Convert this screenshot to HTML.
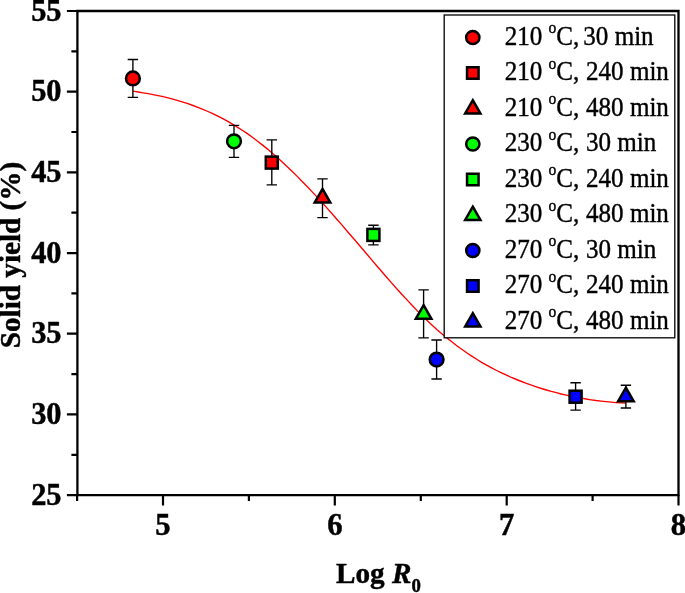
<!DOCTYPE html>
<html><head><meta charset="utf-8"><title>Solid yield vs Log R0</title>
<style>
html,body{margin:0;padding:0;background:#fff;}
body{width:685px;height:593px;overflow:hidden;}
svg{display:block;}
text{font-family:"Liberation Serif","Times New Roman",serif;fill:#000;}
.b{font-weight:bold;font-size:29.5px;stroke:#000;stroke-width:0.45px;}
.lg{font-size:25.1px;stroke:#000;stroke-width:0.38px;}
</style></head><body>
<svg width="685" height="593" viewBox="0 0 685 593">
<rect width="685" height="593" fill="#fff"/>
<path d="M133.2,91.2 L138.2,92.0 L143.2,92.8 L148.1,93.6 L153.1,94.6 L158.1,95.6 L163.1,96.7 L168.0,97.9 L173.0,99.2 L178.0,100.6 L183.0,102.1 L188.0,103.7 L192.9,105.5 L197.9,107.4 L202.9,109.4 L207.9,111.5 L212.8,113.7 L217.8,116.2 L222.8,118.7 L227.8,121.4 L232.8,124.3 L237.7,127.3 L242.7,130.5 L247.7,133.9 L252.7,137.5 L257.6,141.2 L262.6,145.1 L267.6,149.1 L272.6,153.4 L277.6,157.7 L282.5,162.3 L287.5,166.9 L292.5,171.7 L297.5,176.6 L302.4,181.7 L307.4,186.8 L312.4,192.1 L317.4,197.4 L322.4,202.9 L327.3,208.4 L332.3,214.0 L337.3,219.7 L342.3,225.4 L347.2,231.2 L352.2,237.0 L357.2,242.8 L362.2,248.7 L367.2,254.5 L372.1,260.4 L377.1,266.2 L382.1,272.0 L387.1,277.7 L392.0,283.4 L397.0,289.0 L402.0,294.5 L407.0,299.9 L412.0,305.2 L416.9,310.4 L421.9,315.4 L426.9,320.2 L431.9,324.9 L436.8,329.4 L441.8,333.7 L446.8,337.9 L451.8,341.8 L456.8,345.7 L461.7,349.3 L466.7,352.8 L471.7,356.1 L476.7,359.3 L481.6,362.3 L486.6,365.2 L491.6,367.9 L496.6,370.5 L501.6,372.9 L506.5,375.2 L511.5,377.5 L516.5,379.5 L521.5,381.5 L526.4,383.4 L531.4,385.2 L536.4,386.9 L541.4,388.5 L546.4,390.0 L551.3,391.4 L556.3,392.7 L561.3,394.0 L566.3,395.1 L571.2,396.2 L576.2,397.2 L581.2,398.1 L586.2,399.0 L591.2,399.8 L596.1,400.5 L601.1,401.1 L606.1,401.7 L611.1,402.2 L616.0,402.6 L621.0,402.9 L626.0,403.2" fill="none" stroke="#ff0000" stroke-width="1.35"/>
<path d="M132.9,59.5 V97.3 M127.7,59.5 h10.4 M127.7,97.3 h10.4" stroke="#000" stroke-width="1.35" fill="none"/>
<path d="M234,125.4 V157.3 M228.8,125.4 h10.4 M228.8,157.3 h10.4" stroke="#000" stroke-width="1.35" fill="none"/>
<path d="M271.8,139.8 V184.9 M266.6,139.8 h10.4 M266.6,184.9 h10.4" stroke="#000" stroke-width="1.35" fill="none"/>
<path d="M322.5,178.9 V217.6 M317.3,178.9 h10.4 M317.3,217.6 h10.4" stroke="#000" stroke-width="1.35" fill="none"/>
<path d="M373.4,225.2 V244.8 M368.2,225.2 h10.4 M368.2,244.8 h10.4" stroke="#000" stroke-width="1.35" fill="none"/>
<path d="M423.6,289.9 V337.8 M418.40000000000003,289.9 h10.4 M418.40000000000003,337.8 h10.4" stroke="#000" stroke-width="1.35" fill="none"/>
<path d="M436.6,340 V379 M431.40000000000003,340 h10.4 M431.40000000000003,379 h10.4" stroke="#000" stroke-width="1.35" fill="none"/>
<path d="M575.6,382.7 V410.1 M570.4,382.7 h10.4 M570.4,410.1 h10.4" stroke="#000" stroke-width="1.35" fill="none"/>
<path d="M625.9,385.2 V408.0 M620.6999999999999,385.2 h10.4 M620.6999999999999,408.0 h10.4" stroke="#000" stroke-width="1.35" fill="none"/>
<circle cx="132.9" cy="78.4" r="6.90" fill="#ff0000" stroke="#000" stroke-width="2.5"/>
<circle cx="234" cy="141.3" r="6.90" fill="#00ff00" stroke="#000" stroke-width="2.5"/>
<rect x="265.80" y="156.60" width="12.00" height="12.00" fill="#ff0000" stroke="#000" stroke-width="2.5"/>
<polygon points="322.50,188.90 330.30,202.55 314.70,202.55" fill="#ff0000" stroke="#000" stroke-width="2.5" stroke-linejoin="miter"/>
<rect x="367.40" y="228.90" width="12.00" height="12.00" fill="#00ff00" stroke="#000" stroke-width="2.5"/>
<polygon points="423.60,305.20 431.40,318.85 415.80,318.85" fill="#00ff00" stroke="#000" stroke-width="2.5" stroke-linejoin="miter"/>
<circle cx="436.6" cy="359.6" r="6.90" fill="#0000ff" stroke="#000" stroke-width="2.5"/>
<rect x="569.60" y="390.70" width="12.00" height="12.00" fill="#0000ff" stroke="#000" stroke-width="2.5"/>
<polygon points="625.90,387.70 633.70,401.35 618.10,401.35" fill="#0000ff" stroke="#000" stroke-width="2.5" stroke-linejoin="miter"/>
<path d="M77.4,495.1 V11 H678.5 V495.1 Z" fill="none" stroke="#000" stroke-width="2.3"/>
<path d="M77.4,495.1 h-10.5 M77.4,414.4 h-10.5 M77.4,333.7 h-10.5 M77.4,253.1 h-10.5 M77.4,172.4 h-10.5 M77.4,91.7 h-10.5 M77.4,11.0 h-10.5 M77.4,454.8 h-6 M77.4,374.1 h-6 M77.4,293.4 h-6 M77.4,212.7 h-6 M77.4,132.0 h-6 M77.4,51.3 h-6 M163.0,495.1 v10.5 M334.8,495.1 v10.5 M506.7,495.1 v10.5 M678.5,495.1 v10.5 M77.1,495.1 v6 M248.9,495.1 v6 M420.8,495.1 v6 M592.6,495.1 v6" stroke="#000" stroke-width="2.2" fill="none"/>
<text class="b" transform="translate(61.5,504.8) scale(1.03,1.04)" text-anchor="end">25</text>
<text class="b" transform="translate(61.5,424.1) scale(1.03,1.04)" text-anchor="end">30</text>
<text class="b" transform="translate(61.5,343.4) scale(1.03,1.04)" text-anchor="end">35</text>
<text class="b" transform="translate(61.5,262.8) scale(1.03,1.04)" text-anchor="end">40</text>
<text class="b" transform="translate(61.5,182.1) scale(1.03,1.04)" text-anchor="end">45</text>
<text class="b" transform="translate(61.5,101.4) scale(1.03,1.04)" text-anchor="end">50</text>
<text class="b" transform="translate(61.5,20.7) scale(1.03,1.04)" text-anchor="end">55</text>
<text class="b" transform="translate(163.0,534.6) scale(1.04,1.04)" text-anchor="middle">5</text>
<text class="b" transform="translate(334.8,534.6) scale(1.04,1.04)" text-anchor="middle">6</text>
<text class="b" transform="translate(506.7,534.6) scale(1.04,1.04)" text-anchor="middle">7</text>
<text class="b" transform="translate(678.5,534.6) scale(1.04,1.04)" text-anchor="middle">8</text>
<text class="b" transform="translate(20.2,348.2) rotate(-90) scale(0.989,1.0)">Solid yield (%)</text>
<text class="b" transform="translate(336,583) scale(0.99,0.97)">Log <tspan font-style="italic">R</tspan><tspan font-size="19" dy="9.6">0</tspan></text>
<rect x="444.2" y="15" width="230.6" height="322.8" fill="#fff" stroke="#000" stroke-width="1.3"/>
<circle cx="472.8" cy="37.5" r="6.62" fill="#ff0000" stroke="#000" stroke-width="2.5"/>
<text class="lg" transform="translate(504.7,44.8) scale(1,1.065)">210 <tspan font-size="15.5" dy="-11">o</tspan><tspan dy="11">C,</tspan><tspan dx="-2.3"> 30 min</tspan></text>
<rect x="467.04" y="67.24" width="11.52" height="11.52" fill="#ff0000" stroke="#000" stroke-width="2.5"/>
<text class="lg" transform="translate(504.7,80.3) scale(1,1.065)">210 <tspan font-size="15.5" dy="-11">o</tspan><tspan dy="11">C,</tspan><tspan dx="0.4"> 240 min</tspan></text>
<polygon points="472.80,100.19 480.44,113.56 465.16,113.56" fill="#ff0000" stroke="#000" stroke-width="2.5" stroke-linejoin="miter"/>
<text class="lg" transform="translate(504.7,115.8) scale(1,1.065)">210 <tspan font-size="15.5" dy="-11">o</tspan><tspan dy="11">C,</tspan><tspan dx="0.4"> 480 min</tspan></text>
<circle cx="472.8" cy="144.0" r="6.62" fill="#00ff00" stroke="#000" stroke-width="2.5"/>
<text class="lg" transform="translate(504.7,151.3) scale(1,1.065)">230 <tspan font-size="15.5" dy="-11">o</tspan><tspan dy="11">C,</tspan><tspan dx="0.4"> 30 min</tspan></text>
<rect x="467.04" y="173.74" width="11.52" height="11.52" fill="#00ff00" stroke="#000" stroke-width="2.5"/>
<text class="lg" transform="translate(504.7,186.8) scale(1,1.065)">230 <tspan font-size="15.5" dy="-11">o</tspan><tspan dy="11">C,</tspan><tspan dx="0.4"> 240 min</tspan></text>
<polygon points="472.80,206.69 480.44,220.06 465.16,220.06" fill="#00ff00" stroke="#000" stroke-width="2.5" stroke-linejoin="miter"/>
<text class="lg" transform="translate(504.7,222.3) scale(1,1.065)">230 <tspan font-size="15.5" dy="-11">o</tspan><tspan dy="11">C,</tspan><tspan dx="0.4"> 480 min</tspan></text>
<circle cx="472.8" cy="250.5" r="6.62" fill="#0000ff" stroke="#000" stroke-width="2.5"/>
<text class="lg" transform="translate(504.7,257.8) scale(1,1.065)">270 <tspan font-size="15.5" dy="-11">o</tspan><tspan dy="11">C,</tspan><tspan dx="0.4"> 30 min</tspan></text>
<rect x="467.04" y="280.24" width="11.52" height="11.52" fill="#0000ff" stroke="#000" stroke-width="2.5"/>
<text class="lg" transform="translate(504.7,293.3) scale(1,1.065)">270 <tspan font-size="15.5" dy="-11">o</tspan><tspan dy="11">C,</tspan><tspan dx="0.4"> 240 min</tspan></text>
<polygon points="472.80,313.19 480.44,326.56 465.16,326.56" fill="#0000ff" stroke="#000" stroke-width="2.5" stroke-linejoin="miter"/>
<text class="lg" transform="translate(504.7,328.8) scale(1,1.065)">270 <tspan font-size="15.5" dy="-11">o</tspan><tspan dy="11">C,</tspan><tspan dx="0.4"> 480 min</tspan></text>
</svg></body></html>
